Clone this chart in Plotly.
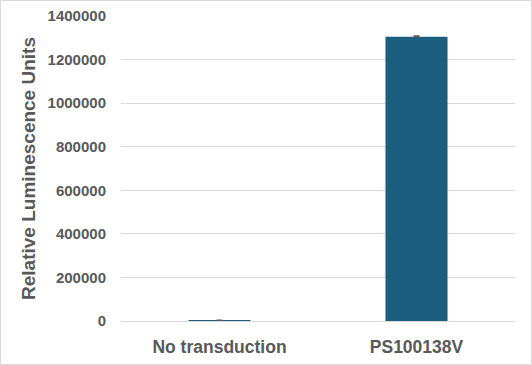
import plotly.graph_objects as go

categories = ["No transduction", "PS100138V"]
values = [3000, 1305000]
errors = [500, 3000]
y_ticks = [0, 200000, 400000, 600000, 800000, 1000000, 1200000, 1400000]

W, H = 532, 365
L, R, T, B = 121, 17, 16, 44
pw, ph = W - L - R, H - T - B

fig = go.Figure(go.Bar(
    x=categories, y=values,
    marker=dict(color="#1B5E80", line=dict(width=0)),
    error_y=dict(type="data", array=errors, visible=True, color="#595959", thickness=1.5, width=3),
    width=0.315,
))

fig.update_layout(
    width=W, height=H,
    margin=dict(l=L, r=R, t=T, b=B, autoexpand=False),
    paper_bgcolor="white", plot_bgcolor="white",
    font=dict(family="Liberation Sans, Arial, sans-serif", color="#595959"),
    showlegend=False,
    xaxis=dict(
        tickfont=dict(size=17.5, weight="bold"),
        showline=True, linecolor="#d9d9d9", linewidth=1, ticks="", showgrid=False,
        ticklabelstandoff=10, automargin=False,
    ),
    yaxis=dict(
        range=[0, 1400000], tickvals=y_ticks, tickformat="d",
        tickfont=dict(size=15, weight="bold"),
        showgrid=True, gridcolor="#d9d9d9", gridwidth=1, zeroline=False,
        ticks="", ticklen=0, showline=False,
        ticklabelstandoff=14, automargin=False,
        title=dict(text="Relative Luminescence Units", font=dict(size=19, weight="bold"), standoff=6),
    ),
    shapes=[dict(
        type="rect", xref="paper", yref="paper",
        x0=(0.5 - L) / pw, x1=(W - 0.5 - L) / pw,
        y0=(T + ph - (H - 0.5)) / ph, y1=(T + ph - 0.5) / ph,
        line=dict(color="#d9d9d9", width=1), fillcolor="rgba(0,0,0,0)", layer="above",
    )],
)

fig.write_html("out.html")
